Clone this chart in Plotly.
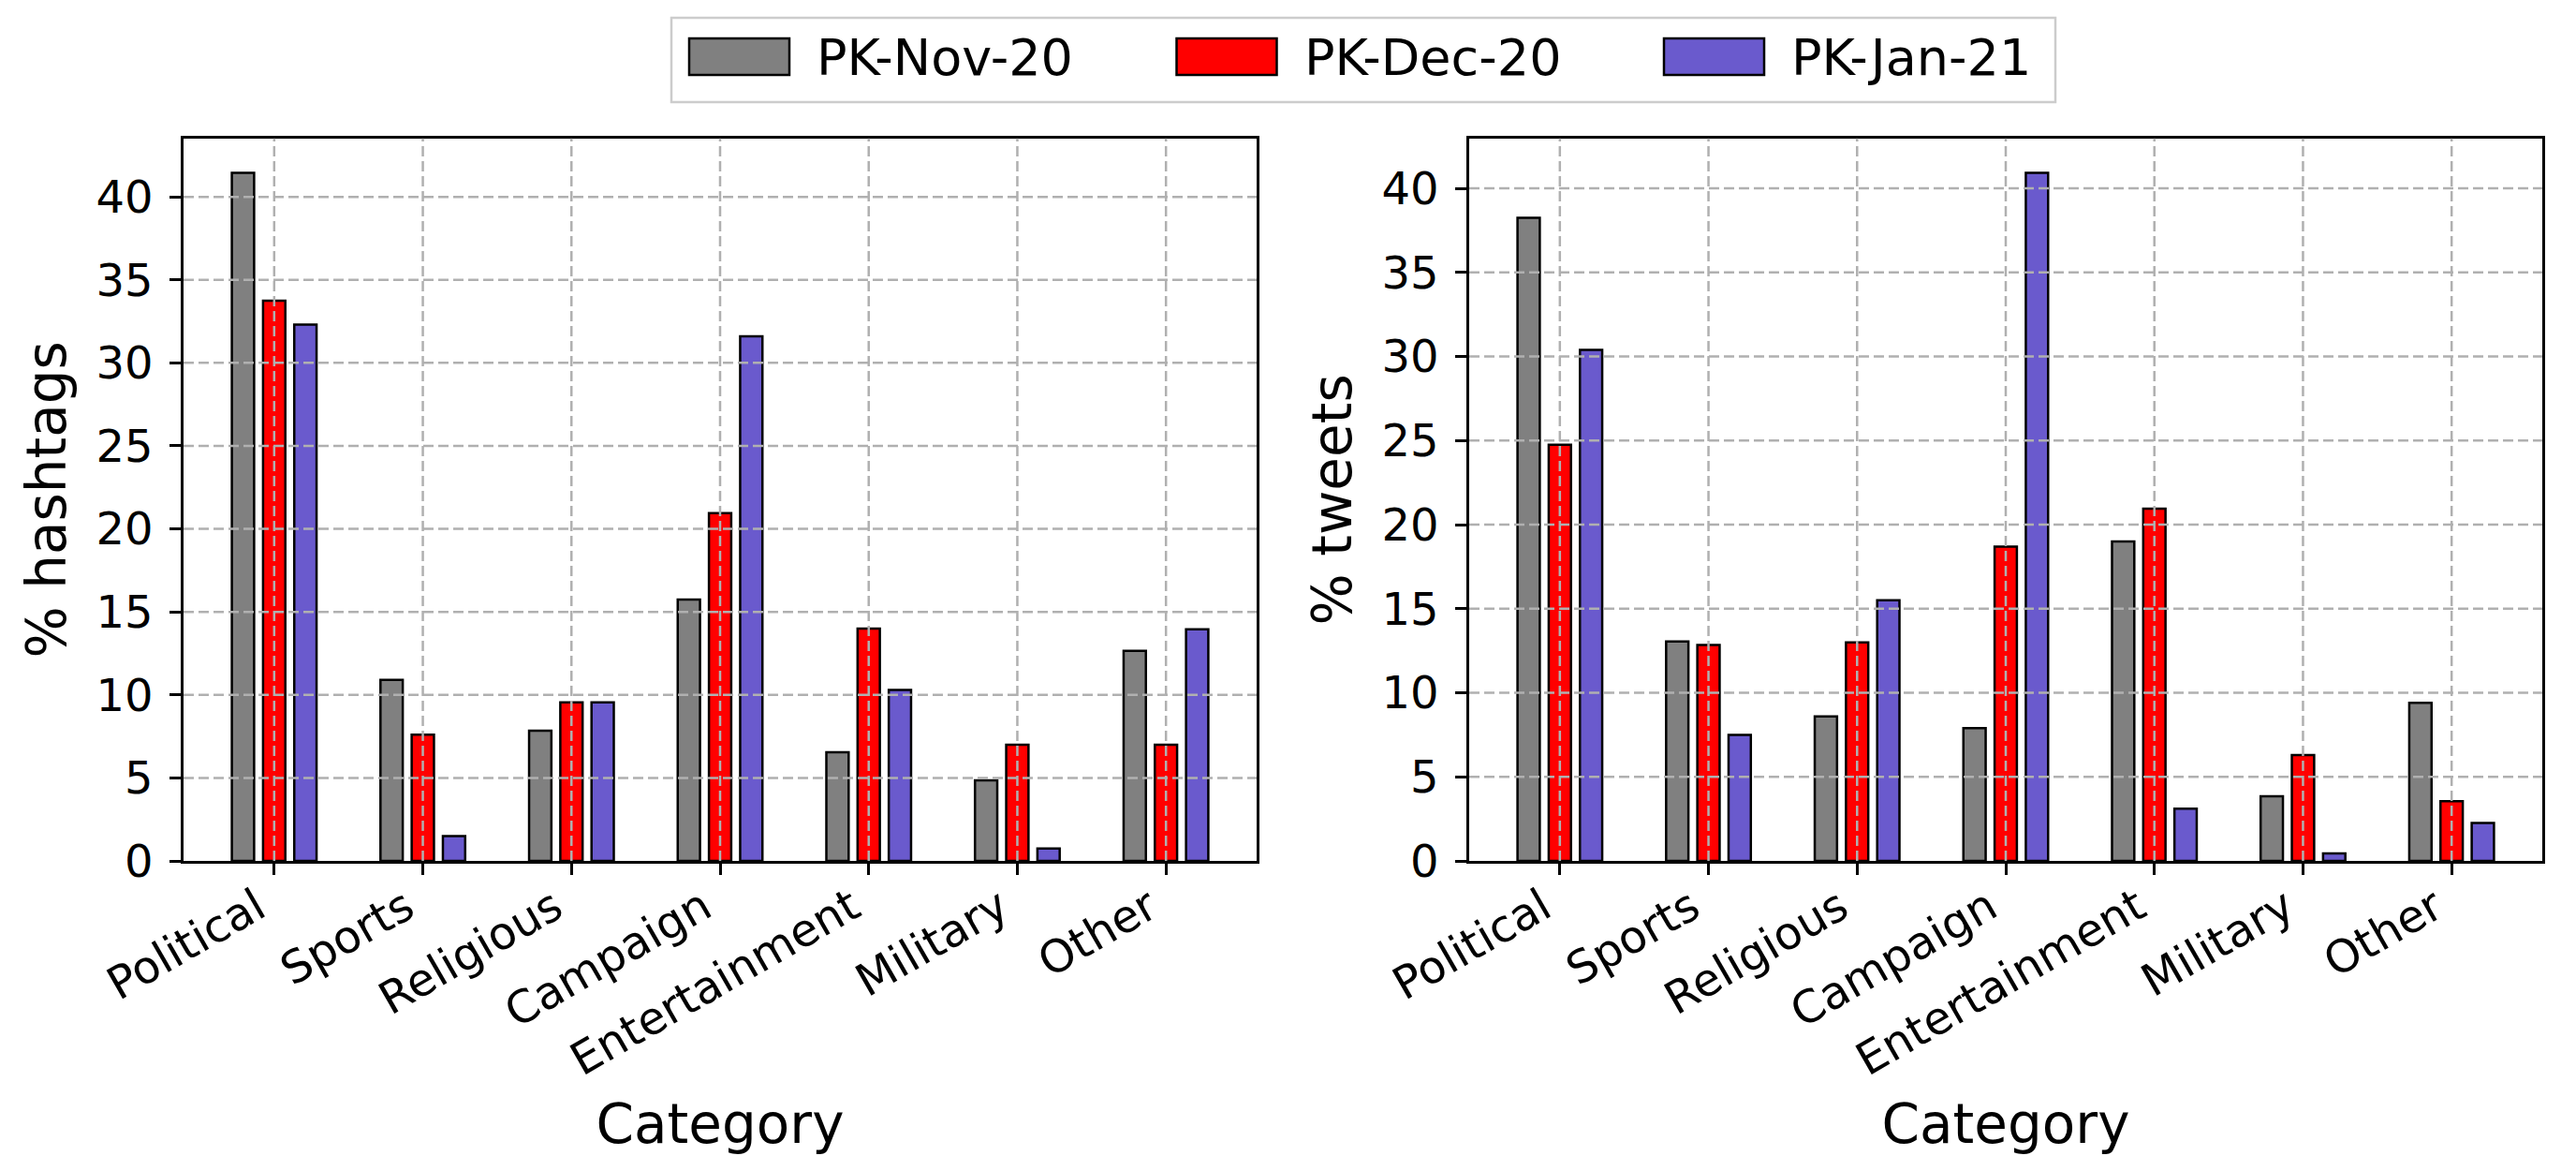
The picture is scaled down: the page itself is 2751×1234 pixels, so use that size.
import plotly.graph_objects as go
from plotly.subplots import make_subplots

categories = ["Political", "Sports", "Religious", "Campaign", "Entertainment", "Military", "Other"]
series_names = ["PK-Nov-20", "PK-Dec-20", "PK-Jan-21"]
series_colors = ["#808080", "#ff0000", "#6a5acd"]

hashtags_nov = [41.45, 10.9, 7.85, 15.75, 6.55, 4.85, 12.65]
hashtags_dec = [33.75, 7.6, 9.55, 20.95, 14.0, 7.0, 7.0]
hashtags_jan = [32.3, 1.5, 9.55, 31.6, 10.3, 0.75, 13.95]

tweets_nov = [38.25, 13.05, 8.6, 7.9, 19.0, 3.85, 9.4]
tweets_dec = [24.75, 12.85, 13.0, 18.7, 20.95, 6.3, 3.55]
tweets_jan = [30.4, 7.5, 15.5, 40.93, 3.1, 0.45, 2.25]

y_ticks = [0, 5, 10, 15, 20, 25, 30, 35, 40]
y_titles = ["% hashtags", "% tweets"]
x_title = "Category"

W, H = 2751, 1234
FONT = "DejaVu Sans"
BAR_W = 0.15
OFFSETS = [-0.21, 0.0, 0.21]
GRID = dict(color="#b0b0b0", width=2.5, dash="11px,5px")

fig = make_subplots(rows=1, cols=2)

panels = [(hashtags_nov, hashtags_dec, hashtags_jan), (tweets_nov, tweets_dec, tweets_jan)]
for col, panel in enumerate(panels, start=1):
    for name, color, off, vals in zip(series_names, series_colors, OFFSETS, panel):
        fig.add_trace(go.Bar(
            x=categories, y=vals, name=name, width=BAR_W, offset=off - BAR_W / 2,
            marker=dict(color=color, line=dict(color="black", width=2.5)),
            showlegend=False,
        ), row=1, col=col)

domains_x = [[196 / W, 1342 / W], [1569 / W, 2715 / W]]
dom_y = [1 - 919 / H, 1 - 147.7 / H]
ymaxes = [max(hashtags_nov + hashtags_dec + hashtags_jan) * 1.05,
          max(tweets_nov + tweets_dec + tweets_jan) * 1.05]

axis_common = dict(showline=True, linecolor="black", linewidth=2.5, mirror=True,
                   ticks="outside", ticklen=12, tickwidth=2.5, tickcolor="black",
                   showgrid=False, zeroline=False, automargin=False,
                   tickfont=dict(family=FONT, size=48, color="black"))

shapes = []
for i in range(2):
    xa = "xaxis" if i == 0 else "xaxis2"
    ya = "yaxis" if i == 0 else "yaxis2"
    xr = "x" if i == 0 else "x2"
    yr = "y" if i == 0 else "y2"
    fig.update_layout({
        xa: dict(axis_common, domain=domains_x[i], range=[-0.61, len(categories) - 1 + 0.61],
                 tickangle=-30, ticklabelstandoff=-12, ticklabelshift=-18,
                 title=dict(text=x_title, font=dict(family=FONT, size=58, color="black"), standoff=32)),
        ya: dict(axis_common, domain=dom_y, range=[0, ymaxes[i]], tickvals=y_ticks,
                 ticklabelstandoff=8,
                 title=dict(text=y_titles[i], font=dict(family=FONT, size=58, color="black"), standoff=14)),
    })
    for k, _ in enumerate(categories):
        shapes.append(dict(type="line", xref=xr, yref=yr + " domain", x0=k, x1=k, y0=0, y1=1,
                           layer="above", line=GRID))
    for t in y_ticks[1:]:
        shapes.append(dict(type="line", xref=xr + " domain", yref=yr, x0=0, x1=1, y0=t, y1=t,
                           layer="above", line=GRID))

# legend (drawn as box + patches + labels)
annotations = []
shapes.append(dict(type="rect", xref="paper", yref="paper", x0=717 / W, x1=2195 / W,
                   y0=1 - 109 / H, y1=1 - 19 / H, line=dict(color="#cccccc", width=2.5),
                   fillcolor="white", layer="above"))
for j, (name, color) in enumerate(zip(series_names, series_colors)):
    px0 = 736 + j * 520.5
    shapes.append(dict(type="rect", xref="paper", yref="paper", x0=px0 / W, x1=(px0 + 107) / W,
                       y0=1 - 80 / H, y1=1 - 41 / H, line=dict(color="black", width=2.5),
                       fillcolor=color, layer="above"))
    annotations.append(dict(text=name, xref="paper", yref="paper", x=(px0 + 134) / W, y=1 - 61 / H,
                            xanchor="left", yanchor="middle", showarrow=False,
                            font=dict(family=FONT, size=54, color="black")))

fig.update_layout(
    width=W, height=H, margin=dict(l=0, r=0, t=0, b=0, autoexpand=False),
    paper_bgcolor="white", plot_bgcolor="white", barmode="overlay",
    font=dict(family=FONT, color="black"),
    shapes=shapes, annotations=annotations, showlegend=False,
)

fig.write_html("out.html", config={"displayModeBar": False},
               post_script="document.body.style.margin='0';document.body.style.overflow='hidden';")
